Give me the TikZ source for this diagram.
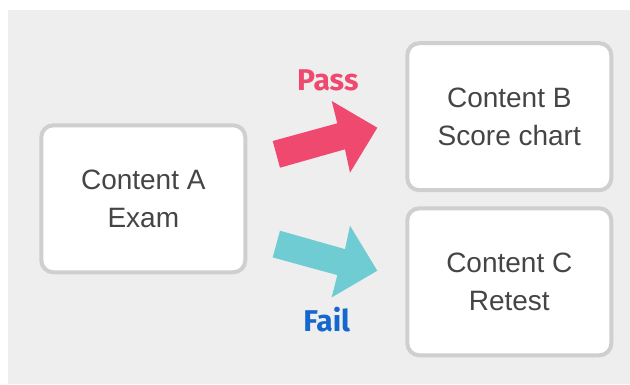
\documentclass[tikz,border=0pt]{standalone}
\usepackage{fontspec}
\setmainfont{Liberation Sans}
\newfontfamily\labelfont{Fira Sans}
\definecolor{bggray}{HTML}{EEEEEE}
\definecolor{boxgray}{HTML}{CFCFCF}
\definecolor{txtgray}{HTML}{454545}
\definecolor{passred}{HTML}{F0496F}
\definecolor{failteal}{HTML}{70CCD3}
\definecolor{failblue}{HTML}{1467CD}
\tikzset{
  contentbox/.style={draw=boxgray, line width=4pt, fill=white, rounded corners=12pt,
    minimum width=204pt, minimum height=147pt, align=center, text=txtgray,
    font=\fontsize{28}{37.7}\selectfont},
  resultlabel/.style={anchor=base, inner sep=0pt, font=\labelfont\bfseries\fontsize{30}{36}\selectfont}
}
\begin{document}
\begin{tikzpicture}[x=1pt, y=-1pt]
            \useasboundingbox[fill=white] (0,0) rectangle (630,384);
            \fill[bggray] (8,10) rectangle (630,384);

            \node[contentbox] (exam) at (143.3,198.8) {Content A\\Exam};
            \node[contentbox] (score) at (509.3,116.7) {Content B\\Score chart};
            \node[contentbox] (retest) at (509.3,281.8) {Content C\\Retest};

            % pass arrow
            \fill[passred] (272.7,141) -- (337.3,123.3) -- (331.7,101) -- (377.3,127.7)
                -- (350,172.7) -- (345,149.3) -- (280,167.7) -- cycle;
            \node[resultlabel, text=passred] (pass) at (327.8,90.3) {Pass};

            % fail arrow
            \fill[failteal] (272.7,257.4) -- (337.3,275.1) -- (331.7,297.4) -- (377.3,270.7)
                -- (350,225.7) -- (345,249.1) -- (280,230.7) -- cycle;
            \node[resultlabel, text=failblue] (fail) at (326.8,331.3) {Fail};
        \end{tikzpicture}
\end{document}
